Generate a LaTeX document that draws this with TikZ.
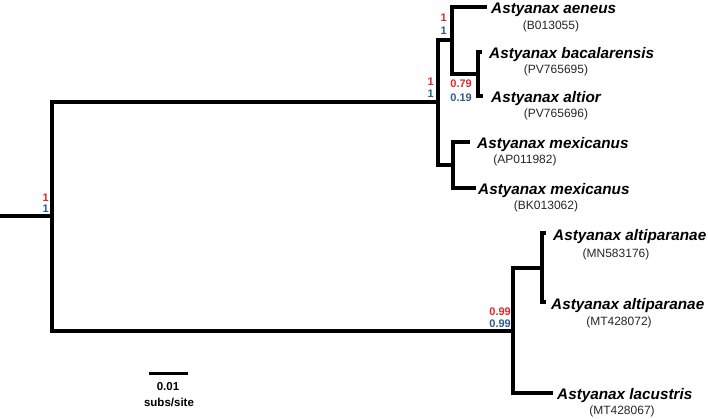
\documentclass[tikz,border=0pt]{standalone}
\usepackage{fontspec}
\setmainfont{Liberation Sans}
\definecolor{supred}{HTML}{E3262B}
\definecolor{supblue}{HTML}{2F5A94}
\definecolor{acc}{HTML}{262626}
\begin{document}
\begin{tikzpicture}[x=1pt,y=-1pt,
  br/.style={line width=3.2pt, line join=miter},
  sp/.style={font=\fontsize{15.3}{15.3}\selectfont\bfseries\itshape, inner sep=0pt, anchor=base west},
  accn/.style={font=\fontsize{12}{12}\selectfont, text=acc, inner sep=0pt, anchor=base},
  sr/.style={font=\fontsize{11}{11}\selectfont\bfseries, text=supred, inner sep=0pt, anchor=base east},
  sb/.style={font=\fontsize{11}{11}\selectfont\bfseries, text=supblue, inner sep=0pt, anchor=base east},
  sc/.style={font=\fontsize{11.5}{11.5}\selectfont\bfseries, inner sep=0pt, anchor=base}]
\useasboundingbox (0,0) rectangle (708,418);
% internal nodes
\coordinate (r) at (0,216);
\coordinate (n0) at (52,216);
\coordinate (nA) at (438,102);
\coordinate (nB) at (452,40);
\coordinate (nC) at (478,74);
\coordinate (nM) at (453,165);
\coordinate (nD) at (513,331);
\coordinate (nE) at (542,268);
% tips
\coordinate (taen) at (487,7);
\coordinate (tbac) at (482,52);
\coordinate (talt) at (483,96);
\coordinate (tmx1) at (470,142);
\coordinate (tmx2) at (476,188);
\coordinate (tap1) at (546,233);
\coordinate (tap2) at (546,302);
\coordinate (tlac) at (553,393);
% branches
\draw[br] (r) -- (n0);
\draw[br] (n0) |- (nA);
\draw[br] (n0) |- (nD);
\draw[br] (nA) |- (nB);
\draw[br] (nA) |- (nM);
\draw[br] (nB) |- (taen);
\draw[br] (nB) |- (nC);
\draw[br] (nC) |- (tbac);
\draw[br] (nC) |- (talt);
\draw[br] (nM) |- (tmx1);
\draw[br] (nM) |- (tmx2);
\draw[br] (nD) |- (nE);
\draw[br] (nD) |- (tlac);
\draw[br] (nE) |- (tap1);
\draw[br] (nE) |- (tap2);
% species labels
\node[sp] (laen) at (491,13) {Astyanax aeneus};
\node[sp] (lbac) at (489,58) {Astyanax bacalarensis};
\node[sp] (lalt) at (491,102) {Astyanax altior};
\node[sp] (lmx1) at (477,148) {Astyanax mexicanus};
\node[sp] (lmx2) at (478,194) {Astyanax mexicanus};
\node[sp] (lap1) at (553,240) {Astyanax altiparanae};
\node[sp] (lap2) at (551,309) {Astyanax altiparanae};
\node[sp] (llac) at (557,399) {Astyanax lacustris};
% accessions
\node[accn] (aaen) at (551,29) {(B013055)};
\node[accn] (abac) at (556,73) {(PV765695)};
\node[accn] (aalt) at (556,117) {(PV765696)};
\node[accn] (amx1) at (525,163) {(AP011982)};
\node[accn] (amx2) at (546,209) {(BK013062)};
\node[accn] (aap1) at (616,257) {(MN583176)};
\node[accn] (aap2) at (619,325) {(MT428072)};
\node[accn] (alac) at (622,414) {(MT428067)};
% support values
\node[sr] (s0r) at (49,201) {1};
\node[sb] (s0b) at (49,212) {1};
\node[sr] (sAr) at (434,85) {1};
\node[sb] (sAb) at (434,97) {1};
\node[sr] (sBr) at (447,21) {1};
\node[sb] (sBb) at (447,34) {1};
\node[sr] (sCr) at (472,87) {0.79};
\node[sb] (sCb) at (472,101) {0.19};
\node[sr] (sDr) at (511,315) {0.99};
\node[sb] (sDb) at (511,327) {0.99};
% scale bar
\coordinate (sb1) at (149,373);
\coordinate (sb2) at (188,373);
\draw[line width=3pt] (sb1) -- (sb2);
\node[sc] (sbl1) at (168,390) {0.01};
\node[sc] (sbl2) at (169,406) {subs/site};
\end{tikzpicture}
\end{document}
